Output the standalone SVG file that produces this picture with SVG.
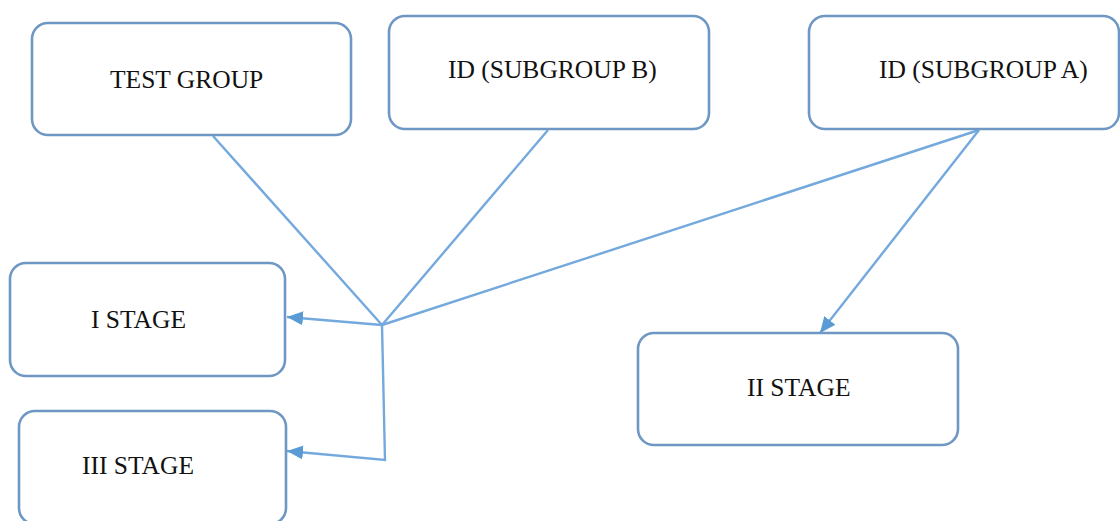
<svg xmlns="http://www.w3.org/2000/svg" width="1120" height="521" viewBox="0 0 1120 521">
<style>
.box{fill:#fff;stroke:#6f97c4;stroke-width:2.6}
.lbl{font-family:"Liberation Serif","Times New Roman",serif;font-size:25.5px;fill:#111}
.con{fill:none;stroke:#74a9de;stroke-width:2.4}
</style>
<defs>
<marker id="ah" viewBox="0 0 16 14" refX="16" refY="7" markerWidth="16" markerHeight="14" orient="auto" markerUnits="userSpaceOnUse">
<path d="M0,0 L16,7 L0,14 z" fill="#5b9bd5"/>
</marker>
</defs>
<rect width="1120" height="521" fill="#fff"/>
<g id="connectors">
<line class="con" x1="213" y1="136" x2="382" y2="325"/>
<line class="con" x1="548" y1="130" x2="382" y2="325"/>
<line class="con" x1="979" y1="130" x2="382" y2="325"/>
<line class="con" x1="979" y1="130" x2="820" y2="333" marker-end="url(#ah)"/>
<line class="con" x1="382" y1="325" x2="287" y2="317" marker-end="url(#ah)"/>
<polyline class="con" points="382,325 385,460 287,451" marker-end="url(#ah)"/>
</g>
<g id="test-group">
<rect class="box" x="32" y="23" width="319" height="112" rx="16"/>
<text class="lbl" x="110" y="88">TEST GROUP</text>
</g>
<g id="subgroup-b">
<rect class="box" x="389" y="16" width="320" height="113" rx="16"/>
<text class="lbl" x="448" y="78">ID (SUBGROUP B)</text>
</g>
<g id="subgroup-a">
<rect class="box" x="809" y="16" width="310" height="113" rx="16"/>
<text class="lbl" x="879" y="78">ID (SUBGROUP A)</text>
</g>
<g id="stage-1">
<rect class="box" x="10" y="263" width="275" height="113" rx="16"/>
<text class="lbl" x="91" y="328">I STAGE</text>
</g>
<g id="stage-3">
<rect class="box" x="19" y="411" width="267" height="113" rx="16"/>
<text class="lbl" x="82" y="474">III STAGE</text>
</g>
<g id="stage-2">
<rect class="box" x="638" y="333" width="320" height="112" rx="16"/>
<text class="lbl" x="747" y="396">II STAGE</text>
</g>
</svg>
